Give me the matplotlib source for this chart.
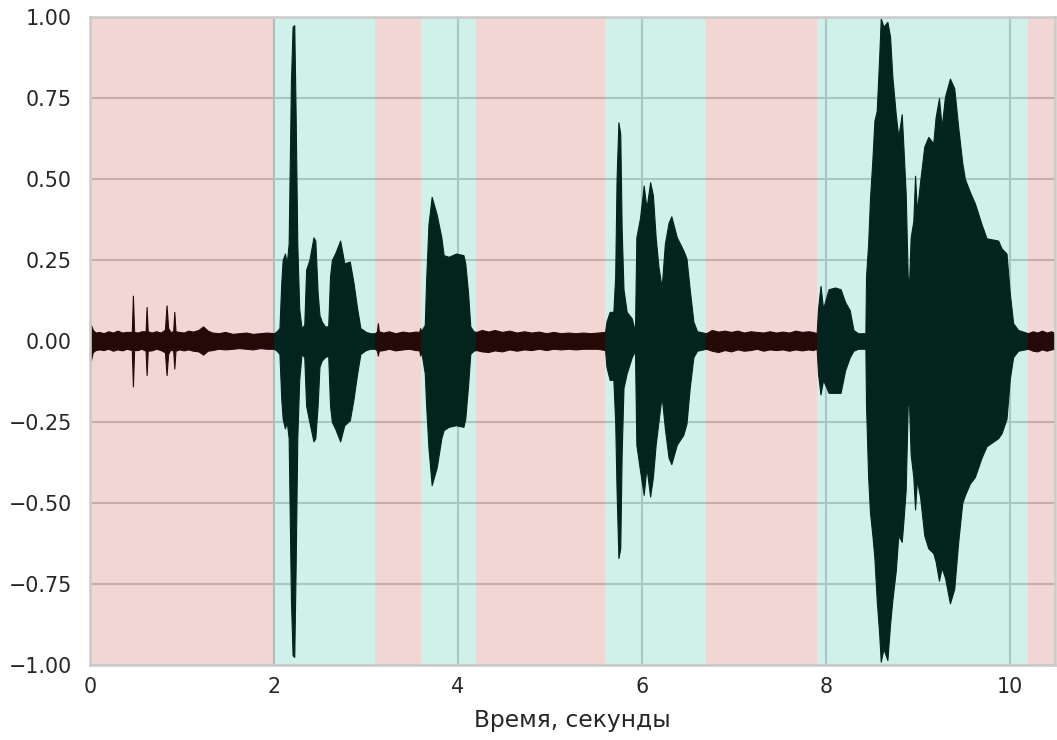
import matplotlib.pyplot as plt
import numpy as np

# Speech / non-speech regions (seconds)
seg_edges = [0.0, 2.0, 3.1, 3.6, 4.2, 5.6, 6.7, 7.9, 10.2, 10.49]
seg_speech = [False, True, False, True, False, True, False, True, False]

# Waveform envelope per region: [time, top, bottom]
noise1 = np.array([
    [0.00, 0.03, -0.03], [0.01, 0.05, -0.06], [0.03, 0.035, -0.035], [0.06, 0.026, -0.028],
    [0.10, 0.028, -0.026], [0.15, 0.024, -0.028], [0.20, 0.03, -0.024], [0.25, 0.026, -0.03],
    [0.30, 0.032, -0.026], [0.35, 0.026, -0.029], [0.40, 0.028, -0.024], [0.455, 0.028, -0.028],
    [0.467, 0.14, -0.14], [0.48, 0.028, -0.028], [0.52, 0.026, -0.028], [0.56, 0.03, -0.024],
    [0.605, 0.03, -0.03], [0.616, 0.105, -0.105], [0.628, 0.03, -0.03], [0.67, 0.026, -0.029],
    [0.72, 0.03, -0.024], [0.77, 0.026, -0.028], [0.815, 0.035, -0.035], [0.833, 0.11, -0.105],
    [0.85, 0.04, -0.04], [0.875, 0.028, -0.026], [0.905, 0.03, -0.03], [0.917, 0.09, -0.085],
    [0.93, 0.03, -0.03], [0.97, 0.028, -0.026], [1.02, 0.026, -0.029], [1.07, 0.032, -0.026],
    [1.12, 0.029, -0.03], [1.18, 0.034, -0.032], [1.23, 0.045, -0.042], [1.28, 0.032, -0.03],
    [1.33, 0.026, -0.028], [1.40, 0.024, -0.024], [1.47, 0.028, -0.026], [1.55, 0.022, -0.024],
    [1.62, 0.024, -0.022], [1.70, 0.026, -0.024], [1.77, 0.022, -0.026], [1.85, 0.024, -0.022],
    [1.92, 0.026, -0.024], [2.00, 0.024, -0.024],
])
speech1 = np.array([
    [2.00, 0.024, -0.024], [2.03, 0.03, -0.03], [2.06, 0.04, -0.04], [2.08, 0.18, -0.18],
    [2.095, 0.25, -0.24], [2.12, 0.27, -0.27], [2.14, 0.24, -0.25], [2.16, 0.30, -0.30],
    [2.185, 0.80, -0.80], [2.203, 0.97, -0.97], [2.221, 0.975, -0.975], [2.236, 0.70, -0.70],
    [2.254, 0.30, -0.30], [2.275, 0.10, -0.12], [2.30, 0.04, -0.04], [2.33, 0.05, -0.05],
    [2.35, 0.22, -0.20], [2.385, 0.25, -0.25], [2.43, 0.32, -0.31], [2.45, 0.31, -0.30],
    [2.475, 0.15, -0.20], [2.495, 0.08, -0.08], [2.52, 0.06, -0.06], [2.555, 0.045, -0.05],
    [2.59, 0.045, -0.045], [2.61, 0.20, -0.20], [2.63, 0.25, -0.25], [2.665, 0.27, -0.27],
    [2.72, 0.31, -0.31], [2.765, 0.24, -0.26], [2.825, 0.245, -0.245], [2.865, 0.18, -0.18],
    [2.905, 0.10, -0.10], [2.94, 0.04, -0.04], [3.00, 0.028, -0.028], [3.05, 0.024, -0.024],
    [3.10, 0.024, -0.024],
])
noise2 = np.array([
    [3.10, 0.024, -0.024], [3.12, 0.03, -0.03], [3.13, 0.055, -0.045], [3.14, 0.03, -0.03],
    [3.19, 0.026, -0.028], [3.25, 0.03, -0.024], [3.32, 0.024, -0.029], [3.40, 0.029, -0.026],
    [3.47, 0.026, -0.024], [3.54, 0.029, -0.028], [3.58, 0.028, -0.029], [3.59, 0.04, -0.045],
    [3.60, 0.03, -0.03],
])
speech2 = np.array([
    [3.60, 0.03, -0.03], [3.64, 0.05, -0.10], [3.655, 0.19, -0.20], [3.68, 0.36, -0.33],
    [3.715, 0.445, -0.445], [3.77, 0.39, -0.39], [3.82, 0.32, -0.30], [3.845, 0.265, -0.275],
    [3.90, 0.26, -0.265], [3.98, 0.27, -0.26], [4.06, 0.265, -0.265], [4.08, 0.24, -0.24],
    [4.11, 0.15, -0.14], [4.135, 0.045, -0.04], [4.17, 0.03, -0.03], [4.20, 0.028, -0.028],
])
noise3 = np.array([
    [4.20, 0.028, -0.028], [4.26, 0.034, -0.032], [4.33, 0.029, -0.034], [4.40, 0.034, -0.029],
    [4.48, 0.028, -0.032], [4.56, 0.032, -0.026], [4.64, 0.026, -0.03], [4.72, 0.03, -0.026],
    [4.80, 0.026, -0.028], [4.88, 0.029, -0.024], [4.96, 0.024, -0.028], [5.04, 0.028, -0.024],
    [5.12, 0.024, -0.026], [5.20, 0.026, -0.024], [5.28, 0.024, -0.026], [5.36, 0.026, -0.024],
    [5.44, 0.024, -0.024], [5.52, 0.026, -0.024], [5.60, 0.028, -0.028],
])
speech3 = np.array([
    [5.60, 0.028, -0.028], [5.615, 0.06, -0.08], [5.65, 0.09, -0.12], [5.69, 0.09, -0.12],
    [5.71, 0.20, -0.25], [5.725, 0.50, -0.46], [5.745, 0.675, -0.67], [5.765, 0.64, -0.64],
    [5.78, 0.35, -0.35], [5.80, 0.16, -0.145], [5.835, 0.09, -0.10], [5.89, 0.07, -0.05],
    [5.925, 0.03, -0.03], [5.94, 0.32, -0.32], [5.98, 0.38, -0.40], [6.02, 0.48, -0.475],
    [6.05, 0.41, -0.39], [6.09, 0.49, -0.48], [6.12, 0.45, -0.42], [6.15, 0.32, -0.32],
    [6.18, 0.23, -0.25], [6.215, 0.165, -0.17], [6.25, 0.30, -0.27], [6.29, 0.365, -0.36],
    [6.32, 0.385, -0.38], [6.38, 0.32, -0.32], [6.45, 0.28, -0.29], [6.485, 0.255, -0.255],
    [6.52, 0.16, -0.145], [6.56, 0.06, -0.05], [6.60, 0.03, -0.03], [6.70, 0.024, -0.024],
])
noise4 = np.array([
    [6.70, 0.024, -0.024], [6.76, 0.034, -0.03], [6.83, 0.029, -0.034], [6.90, 0.032, -0.028],
    [6.97, 0.028, -0.032], [7.04, 0.032, -0.026], [7.11, 0.026, -0.03], [7.18, 0.03, -0.028],
    [7.25, 0.028, -0.024], [7.32, 0.026, -0.03], [7.39, 0.03, -0.026], [7.46, 0.026, -0.028],
    [7.53, 0.029, -0.026], [7.60, 0.026, -0.03], [7.67, 0.032, -0.026], [7.74, 0.028, -0.029],
    [7.81, 0.03, -0.026], [7.86, 0.028, -0.028], [7.90, 0.024, -0.024],
])
speech4 = np.array([
    [7.90, 0.024, -0.024], [7.915, 0.10, -0.10], [7.942, 0.17, -0.165], [7.97, 0.10, -0.12],
    [8.03, 0.16, -0.16], [8.10, 0.165, -0.16], [8.16, 0.16, -0.16], [8.21, 0.12, -0.09],
    [8.26, 0.095, -0.05], [8.30, 0.034, -0.03], [8.35, 0.024, -0.024], [8.43, 0.024, -0.024],
    [8.437, 0.20, -0.20], [8.46, 0.30, -0.42], [8.48, 0.44, -0.53], [8.506, 0.56, -0.60],
    [8.528, 0.68, -0.67], [8.553, 0.71, -0.80], [8.579, 0.87, -0.90], [8.597, 0.996, -0.99],
    [8.626, 0.97, -0.95], [8.669, 0.985, -0.985], [8.698, 0.94, -0.875], [8.723, 0.816, -0.80],
    [8.76, 0.70, -0.71], [8.788, 0.63, -0.60], [8.825, 0.70, -0.62], [8.845, 0.59, -0.55],
    [8.868, 0.456, -0.46], [8.89, 0.20, -0.20], [8.904, 0.17, -0.19], [8.922, 0.32, -0.35],
    [8.951, 0.37, -0.42], [8.97, 0.51, -0.52], [8.99, 0.40, -0.43], [9.024, 0.49, -0.48],
    [9.07, 0.60, -0.60], [9.114, 0.63, -0.64], [9.168, 0.61, -0.655], [9.193, 0.69, -0.68],
    [9.23, 0.75, -0.74], [9.259, 0.66, -0.70], [9.295, 0.754, -0.73], [9.349, 0.81, -0.81],
    [9.396, 0.78, -0.765], [9.439, 0.66, -0.62], [9.483, 0.55, -0.50], [9.512, 0.50, -0.476],
    [9.566, 0.46, -0.44], [9.62, 0.425, -0.42], [9.693, 0.36, -0.36], [9.747, 0.317, -0.325],
    [9.873, 0.31, -0.30], [9.91, 0.286, -0.285], [9.964, 0.27, -0.24], [10.00, 0.147, -0.117],
    [10.036, 0.055, -0.05], [10.09, 0.034, -0.03], [10.20, 0.024, -0.024],
])
noise5 = np.array([
    [10.20, 0.024, -0.024], [10.25, 0.03, -0.03], [10.30, 0.026, -0.032], [10.35, 0.032, -0.026],
    [10.40, 0.026, -0.03], [10.45, 0.03, -0.026], [10.49, 0.024, -0.024],
])

wave = np.vstack([noise1, speech1, noise2, speech2, noise3, speech3, noise4, speech4, noise5])

plt.rcParams['font.family'] = 'DejaVu Sans'
fig, ax = plt.subplots(figsize=(10.57, 7.4), dpi=100)
fig.subplots_adjust(left=0.0851, right=0.998, top=0.977, bottom=0.1014)

# waveform in black, tinted by the region spans drawn over it
ax.fill_between(wave[:, 0], wave[:, 2], wave[:, 1], color='black', lw=0.8, zorder=0.8)

for i, speech in enumerate(seg_speech):
    color = '#14b496' if speech else '#be3228'
    ax.axvspan(seg_edges[i], seg_edges[i + 1], color=color, alpha=0.2, lw=0, zorder=1)

ax.set_xlim(seg_edges[0], seg_edges[-1])
ax.set_ylim(-1, 1)
ax.set_yticks(np.arange(-1, 1.01, 0.25))
ax.yaxis.set_major_formatter(plt.FuncFormatter(lambda v, p: f'{v:.2f}'.replace('-', '\u2212')))
ax.set_xticks([0, 2, 4, 6, 8, 10])

ax.set_axisbelow(True)
ax.grid(True, color='#cccccc', lw=1.5)
for s in ax.spines.values():
    s.set_color('#cccccc')
    s.set_linewidth(1.9)
    s.set_zorder(2.5)
ax.tick_params(length=0, labelsize=14.9, labelcolor='#262626')
ax.tick_params(axis='y', pad=13)
ax.tick_params(axis='x', pad=9)
ax.set_xlabel('Время, секунды', fontsize=16.8, color='#262626', labelpad=8)

plt.savefig('out.png', dpi=100)
